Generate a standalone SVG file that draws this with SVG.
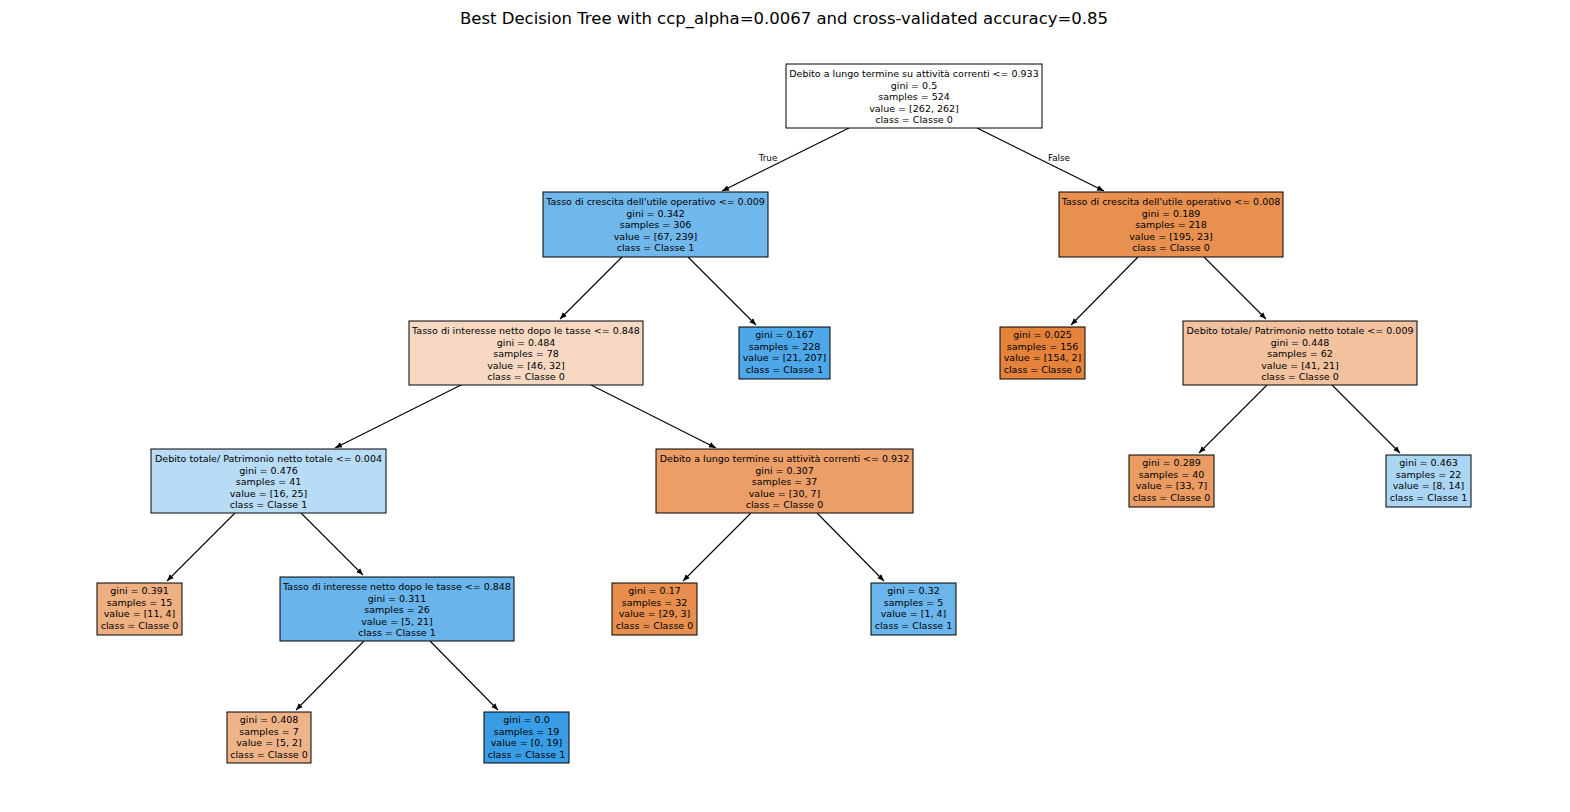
<svg xmlns="http://www.w3.org/2000/svg" width="1570" height="812" viewBox="0 0 1570 812">
<defs>
<marker id="ah" viewBox="0 0 10 10" refX="10" refY="5" markerWidth="7" markerHeight="7" markerUnits="userSpaceOnUse" orient="auto">
<path d="M0,1 L10,5 L0,9 Z" fill="#000"/>
</marker>
</defs>
<style>
text{font-family:"DejaVu Sans",sans-serif;font-size:9.5px;fill:#000;text-anchor:middle}
.title{font-size:16.5px}
.lbl{font-size:8.8px}
.node rect{stroke:#000;stroke-width:1}
.e line{stroke:#000;stroke-width:1.1;marker-end:url(#ah)}
</style>
<rect x="0" y="0" width="1570" height="812" fill="#fff"/>
<text class="title" x="784" y="24">Best Decision Tree with ccp_alpha=0.0067 and cross-validated accuracy=0.85</text>

<g id="connectors" class="e">
<line x1="849" y1="128" x2="722" y2="191"/>
<line x1="977" y1="128" x2="1104" y2="191"/>
<line x1="622" y1="257" x2="560" y2="319"/>
<line x1="688" y1="257" x2="756" y2="325"/>
<line x1="1138" y1="257" x2="1071" y2="325"/>
<line x1="1204" y1="257" x2="1266" y2="319"/>
<line x1="461" y1="385" x2="335" y2="448"/>
<line x1="591" y1="385" x2="716" y2="448"/>
<line x1="1267" y1="385" x2="1199" y2="453"/>
<line x1="1332" y1="385" x2="1400" y2="453"/>
<line x1="235" y1="513" x2="167" y2="581"/>
<line x1="301" y1="513" x2="363" y2="575"/>
<line x1="751" y1="513" x2="683" y2="581"/>
<line x1="817" y1="513" x2="884" y2="581"/>
<line x1="364" y1="641" x2="296" y2="710"/>
<line x1="430" y1="641" x2="498" y2="710"/>
<text class="lbl" x="768" y="161">True</text>
<text class="lbl" x="1059" y="161">False</text>
</g>

<g id="n0" class="node">
<rect x="786" y="64" width="256" height="64" fill="#ffffff"/>
<text x="914" y="77">Debito a lungo termine su attività correnti &lt;= 0.933</text>
<text x="914" y="88.5">gini = 0.5</text>
<text x="914" y="100">samples = 524</text>
<text x="914" y="111.5">value = [262, 262]</text>
<text x="914" y="123">class = Classe 0</text>
</g>

<g id="n1" class="node">
<rect x="543" y="192" width="225" height="65" fill="#70b8ec"/>
<text x="655.5" y="205">Tasso di crescita dell'utile operativo &lt;= 0.009</text>
<text x="655.5" y="216.5">gini = 0.342</text>
<text x="655.5" y="228">samples = 306</text>
<text x="655.5" y="239.5">value = [67, 239]</text>
<text x="655.5" y="251">class = Classe 1</text>
</g>

<g id="n2" class="node">
<rect x="409" y="321" width="234" height="64" fill="#f7d9c3"/>
<text x="526" y="334">Tasso di interesse netto dopo le tasse &lt;= 0.848</text>
<text x="526" y="345.5">gini = 0.484</text>
<text x="526" y="357">samples = 78</text>
<text x="526" y="368.5">value = [46, 32]</text>
<text x="526" y="380">class = Classe 0</text>
</g>

<g id="n3" class="node">
<rect x="151" y="449" width="235" height="64" fill="#b8dcf6"/>
<text x="268.5" y="462">Debito totale/ Patrimonio netto totale &lt;= 0.004</text>
<text x="268.5" y="473.5">gini = 0.476</text>
<text x="268.5" y="485">samples = 41</text>
<text x="268.5" y="496.5">value = [16, 25]</text>
<text x="268.5" y="508">class = Classe 1</text>
</g>

<g id="n4" class="node">
<rect x="97" y="583" width="85" height="52" fill="#eeaf81"/>
<text x="139.5" y="594">gini = 0.391</text>
<text x="139.5" y="605.5">samples = 15</text>
<text x="139.5" y="617">value = [11, 4]</text>
<text x="139.5" y="628.5">class = Classe 0</text>
</g>

<g id="n5" class="node">
<rect x="280" y="577" width="234" height="64" fill="#68b4eb"/>
<text x="397" y="590">Tasso di interesse netto dopo le tasse &lt;= 0.848</text>
<text x="397" y="601.5">gini = 0.311</text>
<text x="397" y="613">samples = 26</text>
<text x="397" y="624.5">value = [5, 21]</text>
<text x="397" y="636">class = Classe 1</text>
</g>

<g id="n6" class="node">
<rect x="227" y="712" width="84" height="51" fill="#efb388"/>
<text x="269" y="723">gini = 0.408</text>
<text x="269" y="734.5">samples = 7</text>
<text x="269" y="746">value = [5, 2]</text>
<text x="269" y="757.5">class = Classe 0</text>
</g>

<g id="n7" class="node">
<rect x="484" y="712" width="85" height="51" fill="#399de5"/>
<text x="526.5" y="723">gini = 0.0</text>
<text x="526.5" y="734.5">samples = 19</text>
<text x="526.5" y="746">value = [0, 19]</text>
<text x="526.5" y="757.5">class = Classe 1</text>
</g>

<g id="n8" class="node">
<rect x="656" y="449" width="257" height="64" fill="#eb9e67"/>
<text x="784.5" y="462">Debito a lungo termine su attività correnti &lt;= 0.932</text>
<text x="784.5" y="473.5">gini = 0.307</text>
<text x="784.5" y="485">samples = 37</text>
<text x="784.5" y="496.5">value = [30, 7]</text>
<text x="784.5" y="508">class = Classe 0</text>
</g>

<g id="n9" class="node">
<rect x="612" y="583" width="85" height="52" fill="#e88e4e"/>
<text x="654.5" y="594">gini = 0.17</text>
<text x="654.5" y="605.5">samples = 32</text>
<text x="654.5" y="617">value = [29, 3]</text>
<text x="654.5" y="628.5">class = Classe 0</text>
</g>

<g id="n10" class="node">
<rect x="871" y="583" width="85" height="52" fill="#6ab6ec"/>
<text x="913.5" y="594">gini = 0.32</text>
<text x="913.5" y="605.5">samples = 5</text>
<text x="913.5" y="617">value = [1, 4]</text>
<text x="913.5" y="628.5">class = Classe 1</text>
</g>

<g id="n11" class="node">
<rect x="739" y="327" width="91" height="52" fill="#4da7e8"/>
<text x="784.5" y="338">gini = 0.167</text>
<text x="784.5" y="349.5">samples = 228</text>
<text x="784.5" y="361">value = [21, 207]</text>
<text x="784.5" y="372.5">class = Classe 1</text>
</g>

<g id="n12" class="node">
<rect x="1059" y="192" width="224" height="65" fill="#e89050"/>
<text x="1171" y="205">Tasso di crescita dell'utile operativo &lt;= 0.008</text>
<text x="1171" y="216.5">gini = 0.189</text>
<text x="1171" y="228">samples = 218</text>
<text x="1171" y="239.5">value = [195, 23]</text>
<text x="1171" y="251">class = Classe 0</text>
</g>

<g id="n13" class="node">
<rect x="1000" y="327" width="85" height="52" fill="#e5833c"/>
<text x="1042.5" y="338">gini = 0.025</text>
<text x="1042.5" y="349.5">samples = 156</text>
<text x="1042.5" y="361">value = [154, 2]</text>
<text x="1042.5" y="372.5">class = Classe 0</text>
</g>

<g id="n14" class="node">
<rect x="1183" y="321" width="234" height="64" fill="#f2c19e"/>
<text x="1300" y="334">Debito totale/ Patrimonio netto totale &lt;= 0.009</text>
<text x="1300" y="345.5">gini = 0.448</text>
<text x="1300" y="357">samples = 62</text>
<text x="1300" y="368.5">value = [41, 21]</text>
<text x="1300" y="380">class = Classe 0</text>
</g>

<g id="n15" class="node">
<rect x="1129" y="455" width="85" height="52" fill="#ea9c63"/>
<text x="1171.5" y="466">gini = 0.289</text>
<text x="1171.5" y="477.5">samples = 40</text>
<text x="1171.5" y="489">value = [33, 7]</text>
<text x="1171.5" y="500.5">class = Classe 0</text>
</g>

<g id="n16" class="node">
<rect x="1386" y="455" width="85" height="52" fill="#aad5f4"/>
<text x="1428.5" y="466">gini = 0.463</text>
<text x="1428.5" y="477.5">samples = 22</text>
<text x="1428.5" y="489">value = [8, 14]</text>
<text x="1428.5" y="500.5">class = Classe 1</text>
</g>
</svg>
